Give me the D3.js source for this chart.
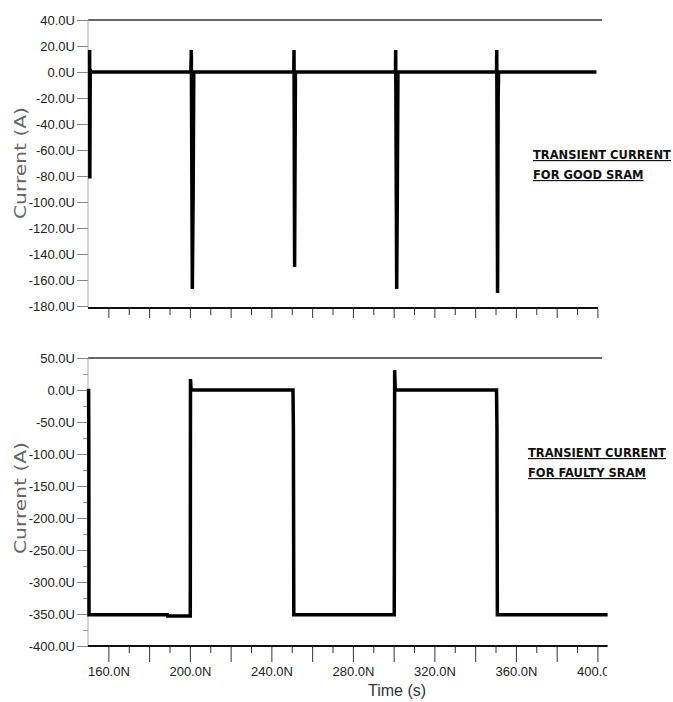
<!DOCTYPE html>
<html>
<head>
<meta charset="utf-8">
<script src="https://cdn.jsdelivr.net/npm/d3@7"></script>
<style>
  body { margin: 0; background: #fff; }
  svg { display: block; }
  .tick text { font-family: "Liberation Sans Narrow", "Liberation Sans", sans-serif; font-size: 13px; fill: #222; }
  .note { font-family: "DejaVu Sans", Verdana, sans-serif; font-weight: bold; font-size: 11.5px; fill: #111; text-decoration: underline; }
</style>
</head>
<body>
<div id="chart"></div>
<script>
// Time in ns, current in uA
var goodTime    = [150.8, 150.9, 151.1, 151.5, 200.5, 200.7, 201.2, 201.6, 201.9, 251.0, 251.1, 251.4, 251.8, 300.9, 301.0, 301.5, 301.8, 302.1, 350.5, 350.6, 351.0, 351.3, 351.5, 399.5];
var goodCurrent = [17,    -82,   2,     0,     0,     17,    -167,  -95,   0,     0,     17,    -150,  0,     0,     17,    -167,  -95,   0,     0,     17,    -170,  -18,   0,     0];

var faultyTime    = [150.3, 150.4, 150.5, 189.0, 189.1, 200.2, 200.3, 200.6, 250.6, 250.8, 251.0, 300.3, 300.5, 300.8, 350.5, 350.7, 350.9, 405.0];
var faultyCurrent = [2,     -80,   -351,  -351,  -353,  -353,  17,    0,     0,     -60,   -351,  -351,  31,    0,     0,     -60,   -351,  -351];

var goodTicks   = [40, 20, 0, -20, -40, -60, -80, -100, -120, -140, -160, -180];
var faultyTicks = [50, 0, -50, -100, -150, -200, -250, -300, -350, -400];
var faultyMinor = [25, -25, -75, -125, -175, -225, -275, -325, -375];
var timeLabels  = [160, 200, 240, 280, 320, 360, 400];
var timeMajor   = [160, 180, 200, 220, 240, 260, 280, 300, 320, 340, 360, 380, 400];
var timeMinor   = [170, 190, 210, 230, 250, 270, 290, 310, 330, 350, 370, 390];

var W = 673, H = 702;
var svg = d3.select("#chart").append("svg").attr("width", W).attr("height", H);

var x = d3.scaleLinear().domain([150, 405]).range([88, 607.6]);
var frameRight = 602;

var yGood = d3.scaleLinear().domain([-180, 40]).range([306, 20]);
var yFaulty = d3.scaleLinear().domain([-400, 50]).range([646, 358]);

var fmtU = function(v) { return v.toFixed(1) + "U"; };
var fmtN = function(v) { return v.toFixed(1) + "N"; };

function styleAxis(g, color) {
    g.select(".domain").remove();
    g.selectAll(".tick line").attr("stroke", color);
}

function drawPanel(y, ticks, minor, times, values, bottomY, xAxisEnd, xTickLong, titleY) {
    var p = svg.append("g");

    // top frame line
    p.append("line").attr("x1", x(150)).attr("x2", frameRight)
        .attr("y1", y.range()[1]).attr("y2", y.range()[1])
        .attr("stroke", "#333").attr("stroke-width", 1.6);

    // left axis
    p.append("line").attr("x1", x(150)).attr("x2", x(150))
        .attr("y1", y.range()[1]).attr("y2", bottomY)
        .attr("stroke", "#aaa").attr("stroke-width", 1);

    var ya = p.append("g").attr("transform", "translate(" + x(150) + ",0)")
        .call(d3.axisLeft(y).tickValues(ticks).tickSize(11).tickPadding(2).tickFormat(fmtU));
    styleAxis(ya, "#888");

    if (minor) {
        var ym = p.append("g").attr("transform", "translate(" + x(150) + ",0)")
            .call(d3.axisLeft(y).tickValues(minor).tickSize(5).tickFormat(""));
        styleAxis(ym, "#999");
    }

    // bottom axis line
    p.append("line").attr("x1", x(150)).attr("x2", xAxisEnd)
        .attr("y1", bottomY).attr("y2", bottomY)
        .attr("stroke", "#111").attr("stroke-width", 2);

    var xa = p.append("g").attr("transform", "translate(0," + (bottomY + 1) + ")")
        .call(d3.axisBottom(x).tickValues(timeMajor.filter(function(t) { return x(t) <= xAxisEnd; }))
            .tickSize(xTickLong).tickFormat(""));
    styleAxis(xa, "#333");
    var xm = p.append("g").attr("transform", "translate(0," + (bottomY + 1) + ")")
        .call(d3.axisBottom(x).tickValues(timeMinor).tickSize(6).tickFormat(""));
    styleAxis(xm, "#333");

    // axis title
    p.append("text")
        .attr("transform", "translate(26," + titleY + ") rotate(-90)")
        .attr("text-anchor", "middle")
        .attr("font-family", "DejaVu Sans, sans-serif")
        .attr("font-size", 16)
        .attr("fill", "#666")
        .attr("textLength", 112)
        .attr("lengthAdjust", "spacingAndGlyphs")
        .text("Current (A)");

    // trace
    var pts = times.map(function(t, i) { return [t, values[i]]; });
    p.append("path").datum(pts)
        .attr("fill", "none").attr("stroke", "#000").attr("stroke-width", 3.5)
        .attr("stroke-linejoin", "miter").attr("stroke-miterlimit", 2)
        .attr("d", d3.line().x(function(d) { return x(d[0]); }).y(function(d) { return y(d[1]); }));
    return p;
}

drawPanel(yGood, goodTicks, null, goodTime, goodCurrent, 308, 598, 9, 163);
var bottom = drawPanel(yFaulty, faultyTicks, faultyMinor, faultyTime, faultyCurrent, 646, 607.6, 15, 498);

// time labels, cut at the picture edge as in the original
// (clip rect is in the group's own coordinates, i.e. below the axis line)
svg.append("clipPath").attr("id", "clipX").append("rect")
    .attr("x", 0).attr("y", 0).attr("width", 607).attr("height", 50);
var xl = bottom.append("g").attr("clip-path", "url(#clipX)")
    .attr("transform", "translate(0,646)")
    .call(d3.axisBottom(x).tickValues(timeLabels).tickSize(0).tickPadding(21).tickFormat(fmtN));
xl.select(".domain").remove();

svg.append("text")
    .attr("x", 397).attr("y", 696)
    .attr("text-anchor", "middle")
    .attr("font-family", "Liberation Sans, Arial, sans-serif")
    .attr("font-size", 16)
    .attr("fill", "#333")
    .text("Time (s)");

// annotations
var notes = [
    { lines: ["TRANSIENT CURRENT", "FOR GOOD SRAM"], x: 533, y: 159 },
    { lines: ["TRANSIENT CURRENT", "FOR FAULTY SRAM"], x: 528, y: 457 }
];
notes.forEach(function(n) {
    n.lines.forEach(function(s, i) {
        svg.append("text").attr("class", "note")
            .attr("x", n.x).attr("y", n.y + i * 20)
            .text(s);
    });
});
</script>
</body>
</html>
